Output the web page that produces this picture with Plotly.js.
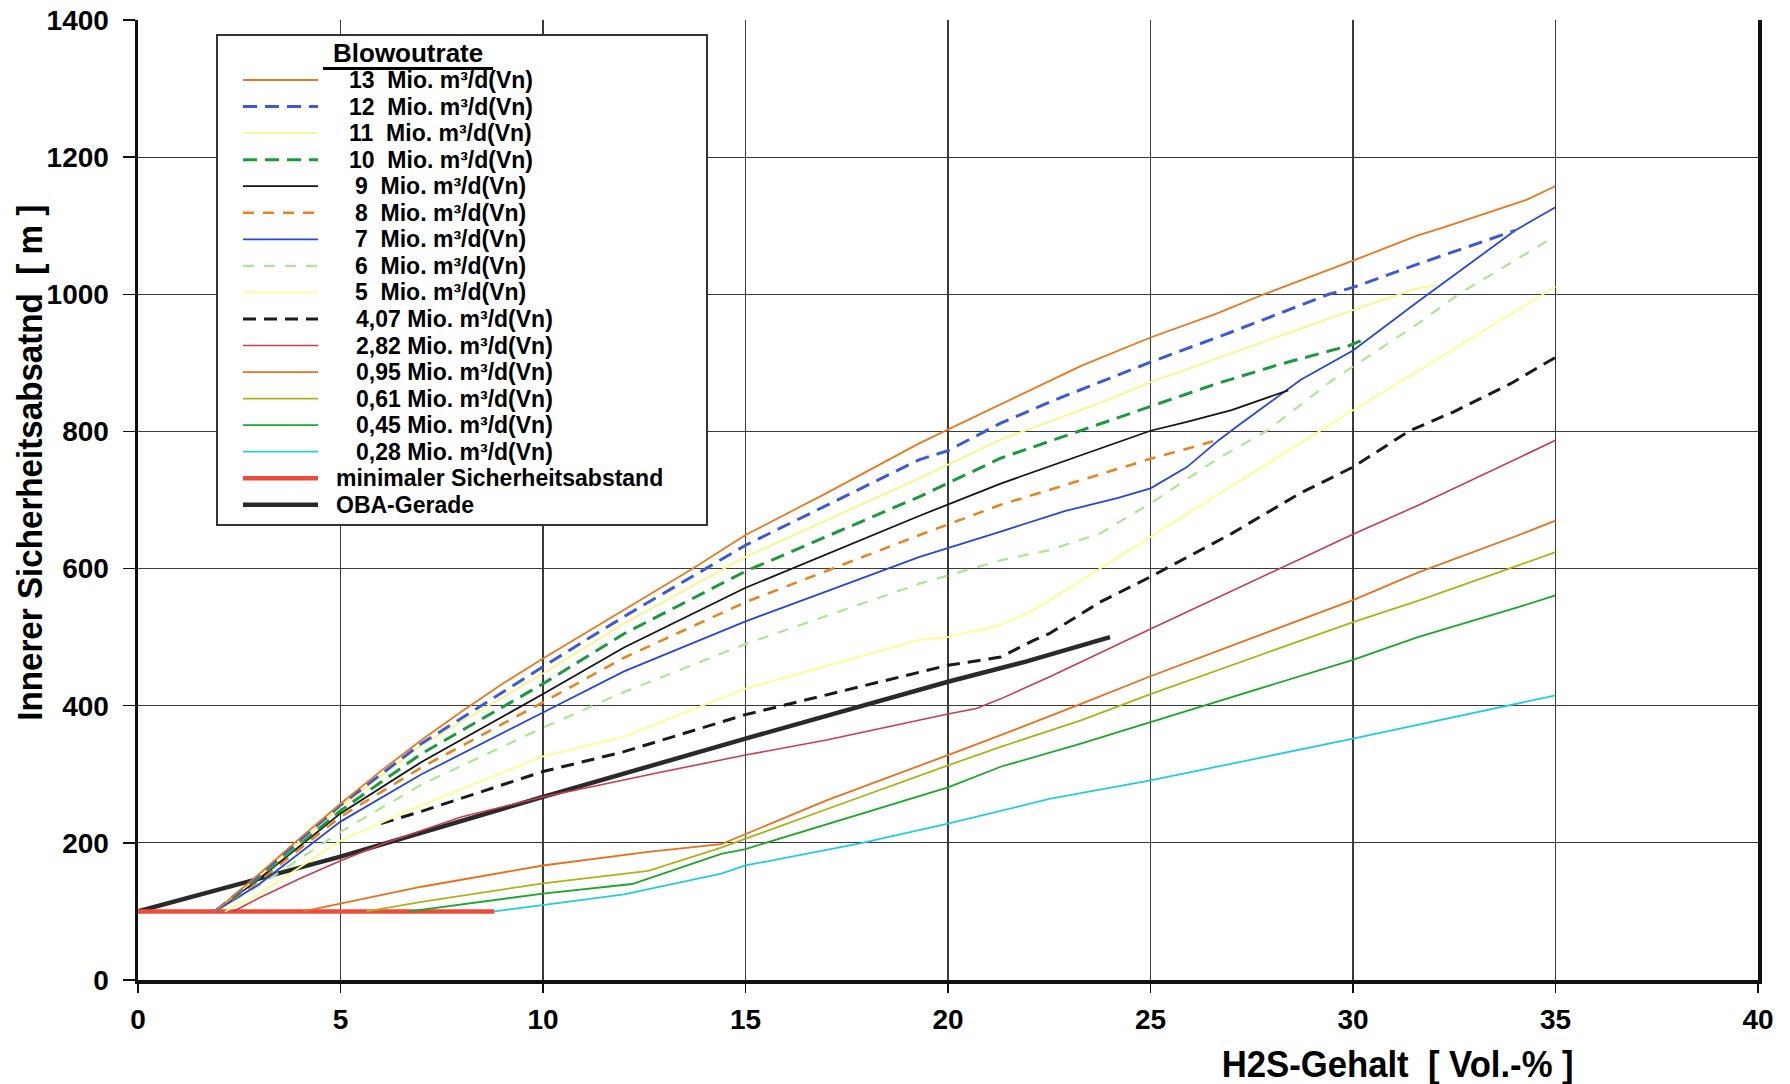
<!DOCTYPE html>
<html><head><meta charset="utf-8">
<script src="https://cdn.plot.ly/plotly-3.0.1.min.js"></script>
<style>html,body{margin:0;padding:0;background:#fff}#chart{width:1790px;height:1084px}</style>
</head><body><div id="chart"></div>
<script>
// ---- data ----
const x13=[1.9,3,4,5,6,7,8,9,10,12,13.7,15,17,19.3,21.3,23.3,25,26.6,27.8,30,31.6,32.2,34.3,35];
const y13=[100,155,207,257,305,350,392,432,469,540,600,649,710,783,839,896,937,971,1000,1049,1086,1097,1138,1158];
const x12=[1.9,3,5,7,10,12,15,19.3,20,21.3,22.6,25,27,29.4,30,31.6,34.0];
const y12=[100,153,255,345,457,530,634,759,772,812,845,901,945,1000,1010,1044,1093];
const x11=[1.9,3,5,7,10,12,15,19.3,21.3,23.9,25,27.5,30,31.6,32.1];
const y11=[100,152,252,342,447,520,617,732,788,845,872,925,977,1009,1013];
const x10=[1.9,3,5,7,10,12,15,19.3,21.3,25,26.6,28.2,29.9,30.3];
const y10=[100,150,247,330,432,505,596,705,761,837,869,898,925,935];
const x9=[1.9,3,5,7,10,12,15,19.3,21.3,25,25.9,27.0,28.4];
const y9=[100,148,243,318,417,485,572,677,724,801,814,831,860];
const x8=[1.9,3,5,7,10,12,15,19.3,21.3,25,26.7];
const y8=[100,145,238,310,405,470,551,649,693,760,788];
const x7=[1.9,3,5,7,10,12,15,19.3,21.3,22.9,24.2,25,25.9,26.7,27.2,28.7,30,31.6,34.0,35];
const y7=[100,140,231,300,390,450,523,617,654,684,703,717,748,788,810,875,918,989,1093,1127];
const x6=[1.9,3,5,7,10,12,15,19.3,21.3,22.5,23.75,25,26.6,27.9,29.5,31.6,32.6,35];
const y6=[100,138,216,285,368,420,490,578,612,627,651,695,758,802,875,957,1000,1085];
const x5=[2.15,3,5,7,10,12,15,19.3,20,21.3,22.1,23.75,25,29.2,30,31.6,35];
const y5=[100,126,203,255,326,355,425,496,500,518,539,600,647,801,831,888,1011];
const x407=[6,7,10,12,15,19.3,20,21.3,22.1,22.5,23.75,25,27,28.7,30,31.4,32.5,33.9,35];
const y407=[228,246,304,333,387,449,459,471,495,505,551,588,651,710,748,801,829,870,908];
const x282=[2.35,3,4,5,6.15,8,10,10.4,12.9,15,17,20,20.7,21.3,22.5,25,30,31.6,34.1,35];
const y282=[100,120,148,174,201,238,267,272,303,328,350,388,396,410,442,512,650,692,762,787];
const x095=[4.08,5,7,10,12.6,14.4,15,17,20,21.3,23.3,25,30,31.6,34.1,35];
const y095=[100,111,136,167,187,198,213,262,328,357,403,443,554,594,649,670];
const x061=[5.64,7,10,12.6,14.4,15,17,20,21.3,23.3,25,30,31.6,34.1,35];
const y061=[100,114,141,159,193,206,249,313,340,379,417,522,553,605,624];
const x045=[6.7,8,10,12.2,14.4,15,17,20,21.3,23.3,25,30,31.6,34.1,35];
const y045=[100,110,126,140,184,191,227,281,311,345,376,467,500,544,561];
const x028=[8.8,10,12,14.4,15,17.8,20,22.5,25,30,31.6,34.1,35];
const y028=[100,109,125,155,167,199,228,264,291,352,372,403,415];
const xMin=[0,8.8];
const yMin=[100,100];
const xOBA=[0,5,10,15,20,21.9,23.3,24];
const yOBA=[100,180,267,352,435,464,488,500];

const legendTitle='Blowoutrate';
const labels=['13\u00a0\u00a0Mio. m³/d(Vn)','12\u00a0\u00a0Mio. m³/d(Vn)','11\u00a0\u00a0Mio. m³/d(Vn)','10\u00a0\u00a0Mio. m³/d(Vn)',
 '9\u00a0\u00a0Mio. m³/d(Vn)','8\u00a0\u00a0Mio. m³/d(Vn)','7\u00a0\u00a0Mio. m³/d(Vn)','6\u00a0\u00a0Mio. m³/d(Vn)','5\u00a0\u00a0Mio. m³/d(Vn)',
 '4,07 Mio. m³/d(Vn)','2,82 Mio. m³/d(Vn)','0,95 Mio. m³/d(Vn)','0,61 Mio. m³/d(Vn)','0,45 Mio. m³/d(Vn)','0,28 Mio. m³/d(Vn)',
 'minimaler Sicherheitsabstand','OBA-Gerade'];
const xTitle='H2S-Gehalt\u00a0\u00a0[ Vol.-% ]';
const yTitle='Innerer Sicherheitsabsatnd\u00a0\u00a0[ m ]';

// ---- styles ----
const seriesX=[x13,x12,x11,x10,x9,x8,x7,x6,x5,x407,x282,x095,x061,x045,x028,xMin,xOBA];
const seriesY=[y13,y12,y11,y10,y9,y8,y7,y6,y5,y407,y282,y095,y061,y045,y028,yMin,yOBA];
const styles=[
 {color:'#E8781E',width:1.8,dash:'solid'},
 {color:'#3B5BD6',width:3,dash:'14px,8px'},
 {color:'#FAF58A',width:1.8,dash:'solid'},
 {color:'#1A9A3A',width:3,dash:'14px,8px'},
 {color:'#141414',width:1.8,dash:'solid'},
 {color:'#E8841E',width:2.6,dash:'11px,9px'},
 {color:'#2846D8',width:1.8,dash:'solid'},
 {color:'#A8E890',width:2.2,dash:'11px,10px'},
 {color:'#FFFB8C',width:1.8,dash:'solid'},
 {color:'#1A1A1A',width:3,dash:'13px,8px'},
 {color:'#C83C50',width:1.6,dash:'solid'},
 {color:'#E8701A',width:1.8,dash:'solid'},
 {color:'#A8B418',width:1.8,dash:'solid'},
 {color:'#1AA82A',width:1.8,dash:'solid'},
 {color:'#22CCE0',width:1.8,dash:'solid'},
 {color:'#F04A3C',width:4.5,dash:'solid'},
 {color:'#2A2A2A',width:4.5,dash:'solid'}
];

const traces=seriesX.map((xs,i)=>({
  x:xs,y:seriesY[i],type:'scatter',mode:'lines',name:labels[i],showlegend:false,
  line:{color:styles[i].color,width:styles[i].width,dash:styles[i].dash},hoverinfo:'skip'
})).reverse();

// ---- geometry helpers (pixels -> paper) ----
const L=138,R=32,T=20,B=104,W=1790,H=1084;
const PW=W-L-R,PH=H-T-B;
const px=v=>(v-L)/PW, py=v=>(H-B-v)/PH;

const bold="'Liberation Sans', Arial, sans-serif";

const shapes=[];
const annotations=[];
// legend box
shapes.push({type:'rect',xref:'paper',yref:'paper',x0:px(217),x1:px(707),y0:py(525),y1:py(35),
  line:{color:'#333',width:2},fillcolor:'#fff',layer:'above'});
annotations.push({xref:'paper',yref:'paper',x:px(408),y:py(53),text:'<b>'+legendTitle+'</b>',showarrow:false,
  xanchor:'center',yanchor:'middle',font:{family:bold,size:26,color:'#000'}});
shapes.push({type:'line',xref:'paper',yref:'paper',x0:px(323),x1:px(493),y0:py(68.5),y1:py(68.5),line:{color:'#000',width:3},layer:'above'});
function legendTextX(lbl){
  if(/^\d\d\u00a0/.test(lbl)) return 347;
  if(/^\d\u00a0/.test(lbl)) return 353;
  if(/^\d,/.test(lbl)) return 354;
  return 334;
}
labels.forEach((lbl,i)=>{
  const yc=80+i*26.55;
  const s=styles[i];
  shapes.push({type:'line',xref:'paper',yref:'paper',x0:px(243),x1:px(318),y0:py(yc),y1:py(yc),
    line:{color:s.color,width:Math.min(s.width,4.5),dash:s.dash},layer:'above'});
  annotations.push({xref:'paper',yref:'paper',x:px(legendTextX(lbl)),y:py(yc),text:'<b>'+lbl+'</b>',showarrow:false,
    xanchor:'left',yanchor:'middle',font:{family:bold,size:23,color:'#000'}});
});
// axis titles
annotations.push({xref:'paper',yref:'paper',x:px(1397),y:py(1064),text:'<b>'+xTitle+'</b>',showarrow:false,
  xanchor:'center',yanchor:'middle',font:{family:bold,size:36,color:'#000'}});
annotations.push({xref:'paper',yref:'paper',x:px(29),y:py(463),text:'<b>'+yTitle+'</b>',showarrow:false,textangle:-90,
  xanchor:'center',yanchor:'middle',font:{family:bold,size:35,color:'#000'}});

const layout={
  width:W,height:H,margin:{l:L,r:R,t:T,b:B},paper_bgcolor:'#fff',plot_bgcolor:'#fff',showlegend:false,
  xaxis:{range:[0,40],dtick:5,tick0:0,showgrid:true,gridcolor:'#3a3a3a',gridwidth:1.2,zeroline:false,
    showline:true,linecolor:'#111',linewidth:3.5,mirror:false,ticks:'outside',ticklen:9,tickcolor:'#111',tickwidth:1.5,
    ticklabelstandoff:3,tickfont:{family:bold,size:28,color:'#000',weight:'bold'}},
  yaxis:{range:[0,1400],dtick:200,tick0:0,showgrid:true,gridcolor:'#3a3a3a',gridwidth:1.2,zeroline:false,
    showline:true,linecolor:'#111',linewidth:3.5,mirror:true,ticks:'outside',ticklen:12,tickcolor:'#111',tickwidth:1.5,
    ticklabelstandoff:8,tickfont:{family:bold,size:28,color:'#000',weight:'bold'}},
  shapes:shapes,annotations:annotations
};
const gd=document.getElementById('chart');
Plotly.newPlot(gd,traces,layout,{staticPlot:true,displayModeBar:false}).then(()=>{
  // narrow bold face in the reference: compress the axis titles to their length there
  gd.querySelectorAll('.annotation-text').forEach(t=>{
    const s=t.textContent;
    let len=null;
    if(s.indexOf('Sicherheitsabsatnd')>=0) len=516;
    else if(s.indexOf('H2S')>=0) len=352;
    if(len){t.setAttribute('textLength',len);t.setAttribute('lengthAdjust','spacingAndGlyphs');}
  });
});
</script>
</body></html>
